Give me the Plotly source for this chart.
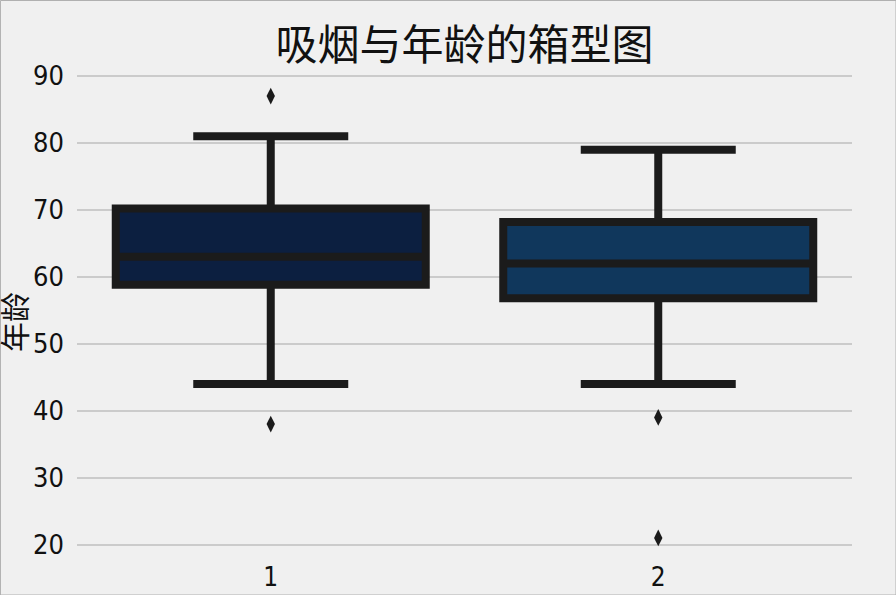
import plotly.graph_objects as go

categories = ["1", "2"]
q1 = [58.8, 56.8]
median = [63.0, 62.0]
q3 = [70.2, 68.2]
lower_whisker = [44.0, 44.0]
upper_whisker = [81.0, 79.0]
outliers = [[87.0, 38.0], [39.0, 21.0]]
fill_colors = ["#0c1f40", "#10375c"]

title_text = "吸烟与年龄的箱型图"
y_label = "年龄"
y_ticks = [20, 30, 40, 50, 60, 70, 80, 90]

FONT = "Noto Sans CJK SC"
TICKFONT = "Liberation Sans Narrow, DejaVu Sans Condensed, Noto Sans CJK SC"
EDGE = "#1b1b1b"

fig = go.Figure()
for i, cat in enumerate(categories):
    fig.add_trace(go.Box(
        x=[cat], q1=[q1[i]], median=[median[i]], q3=[q3[i]],
        lowerfence=[lower_whisker[i]], upperfence=[upper_whisker[i]],
        fillcolor=fill_colors[i], line=dict(color=EDGE, width=8),
        width=0.8, whiskerwidth=0.5, boxpoints=False, showlegend=False,
        hoverinfo="skip",
    ))
    fig.add_trace(go.Scatter(
        x=[cat] * len(outliers[i]), y=outliers[i], mode="markers",
        marker=dict(symbol="diamond-tall", size=12, color=EDGE, line=dict(width=0)),
        showlegend=False, hoverinfo="skip",
    ))

W, H = 896, 595
ml, mr, mt, mb = 77, 44, 74, 35
pw = W - ml - mr
ph = H - mt - mb

fig.update_layout(
    width=W, height=H,
    margin=dict(l=ml, r=mr, t=mt, b=mb, autoexpand=False),
    paper_bgcolor="#f0f0f0", plot_bgcolor="#f0f0f0",
    font=dict(family=FONT, color="#111111", size=22),
    title=dict(text=title_text, x=0.5, xref="paper", xanchor="center",
               y=1 - 45 / H, yanchor="middle", yref="container",
               font=dict(size=42, family=FONT, color="#111111")),
    xaxis=dict(type="category", categoryorder="array", categoryarray=categories,
               range=[-0.5, 1.5], showgrid=False, zeroline=False, showline=False,
               ticks="", tickfont=dict(size=26, family=TICKFONT), ticklabelstandoff=-1,
               automargin=False),
    yaxis=dict(range=[17.7, 90.3], tickvals=y_ticks, showgrid=True,
               gridcolor="#cbcbcb", gridwidth=2, zeroline=False, showline=False,
               ticks="", tickfont=dict(size=27, family=TICKFONT), ticklabelstandoff=12,
               automargin=False),
    annotations=[dict(text=y_label, xref="paper", yref="paper",
                      x=(13 - ml) / pw, y=(H - mb - 322) / ph, xanchor="center", yanchor="middle",
                      textangle=-90, showarrow=False,
                      font=dict(size=30, family=FONT, color="#111111"))],
    shapes=[dict(type="rect", xref="paper", yref="paper",
                 x0=-ml / pw + 0.0006, x1=(pw + mr) / pw,
                 y0=-mb / ph, y1=(H - mb) / ph - 0.001,
                 line=dict(color="#b0b0b0", width=1), layer="below")],
)

fig.write_html("out.html")
